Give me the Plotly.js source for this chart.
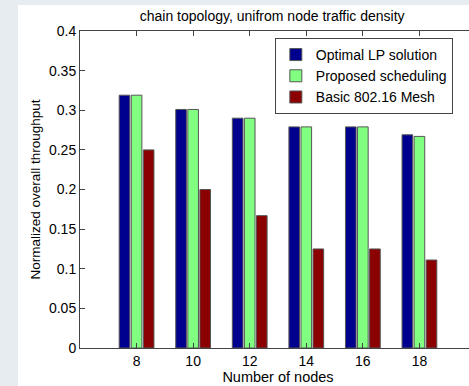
<!DOCTYPE html>
<html>
<head>
<meta charset="utf-8">
<script src="https://cdn.plot.ly/plotly-3.0.1.min.js"></script>
<style>
  html, body { margin: 0; padding: 0; width: 100%; height: 100%; overflow: hidden; background: #ffffff; }
  #strip-left { position: absolute; left: 0; top: 0; width: 18px; height: 100%; background: #e7ecf0; }
  #strip-top { position: absolute; left: 0; top: 0; width: 100%; height: 5px; background: #e7ecf0; }
  #chart { position: absolute; left: 18px; top: 5px; width: 458px; height: 381px; }
</style>
</head>
<body>
<div id="strip-left"></div>
<div id="strip-top"></div>
<div id="chart"></div>
<script>
const nodes = [8, 10, 12, 14, 16, 18];
const optimalLP = [0.319, 0.301, 0.290, 0.279, 0.279, 0.269];
const proposed  = [0.319, 0.301, 0.290, 0.279, 0.279, 0.267];
const basicMesh = [0.250, 0.200, 0.167, 0.125, 0.125, 0.111];
const seriesNames = ['Optimal LP solution', 'Proposed scheduling', 'Basic 802.16 Mesh'];
const seriesColors = ['#00008f', '#80ff80', '#8b0000'];
const yTicks = [0, 0.05, 0.1, 0.15, 0.2, 0.25, 0.3, 0.35, 0.4];

const seriesValues = [optimalLP, proposed, basicMesh];
const traces = seriesValues.map((vals, i) => ({
  type: 'bar',
  x: nodes,
  y: vals,
  name: seriesNames[i],
  marker: { color: seriesColors[i], line: { color: '#555', width: 1 } },
  hoverinfo: 'x+y'
}));

const fam = 'Liberation Sans, Arial, sans-serif';

const layout = {
  width: 458,
  height: 381,
  margin: { l: 62, r: 0, t: 26, b: 38, pad: 0 },
  paper_bgcolor: '#ffffff',
  plot_bgcolor: '#ffffff',
  font: { family: fam, size: 13, color: '#000' },
  barmode: 'group',
  bargap: 0.36,
  bargroupgap: 0.12,
  showlegend: true,
  title: {
    text: 'chain topology, unifrom node traffic density',
    font: { family: fam, size: 14, color: '#000' },
    x: 0.555, xanchor: 'center', y: 0.985, yanchor: 'top'
  },
  xaxis: {
    range: [6, 20],
    tickvals: nodes,
    ticktext: nodes.map(String),
    ticks: 'inside',
    ticklen: 5,
    tickcolor: '#444',
    showline: true,
    linecolor: '#444',
    linewidth: 1,
    mirror: 'ticks',
    showgrid: false,
    zeroline: false,
    tickfont: { family: fam, size: 14, color: '#000' },
    title: { text: 'Number of nodes', font: { family: fam, size: 14.5, color: '#000' }, standoff: 1 }
  },
  yaxis: {
    range: [0, 0.4],
    tickvals: yTicks,
    ticktext: yTicks.map(v => String(v)),
    ticks: 'inside',
    ticklen: 5,
    tickcolor: '#444',
    showline: true,
    linecolor: '#444',
    linewidth: 1,
    mirror: 'ticks',
    showgrid: false,
    zeroline: false,
    tickfont: { family: fam, size: 14, color: '#000' },
    title: { text: 'Normalized overall throughput', font: { family: fam, size: 13.5, color: '#000' }, standoff: 5 }
  },
  legend: {
    x: 0.492, xanchor: 'left',
    y: 0.978, yanchor: 'top',
    bgcolor: '#ffffff',
    bordercolor: '#444',
    borderwidth: 1,
    font: { family: fam, size: 14, color: '#000' },
    traceorder: 'normal',
    itemwidth: 30,
    tracegroupgap: 0
  }
};

Plotly.newPlot('chart', traces, layout, { displayModeBar: false, staticPlot: true });
</script>
</body>
</html>
